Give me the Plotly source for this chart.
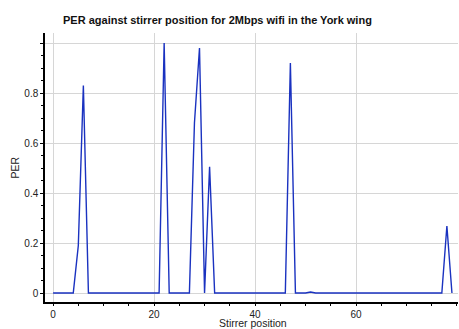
import plotly.graph_objects as go

# Stirrer positions and packet error rate
stirrer_pos = list(range(80))
per = [
    0, 0, 0, 0, 0, 0.19, 0.83, 0, 0, 0,
    0, 0, 0, 0, 0, 0, 0, 0, 0, 0,
    0, 0, 1.0, 0, 0, 0, 0, 0, 0.68, 0.98,
    0, 0.505, 0, 0, 0, 0, 0, 0, 0, 0,
    0, 0, 0, 0, 0, 0, 0, 0.92, 0, 0,
    0, 0.004, 0, 0, 0, 0, 0, 0, 0, 0,
    0, 0, 0, 0, 0, 0, 0, 0, 0, 0,
    0, 0, 0, 0, 0, 0, 0, 0, 0.268, 0,
]
y_ticks = [0, 0.2, 0.4, 0.6, 0.8, 1.0]
y_labels = ["0", "0.2", "0.4", "0.6", "0.8", ""]
x_ticks = [0, 20, 40, 60]

fig = go.Figure()
fig.add_trace(go.Scatter(
    x=stirrer_pos, y=per, mode="lines",
    line=dict(color="#1a32c0", width=1.4),
    showlegend=False,
))

axis_font = dict(family="Liberation Sans, Arial, sans-serif", size=10, color="#222")
label_font = dict(family="Liberation Sans, Arial, sans-serif", size=10.5, color="#222")

fig.update_layout(
    width=459, height=329,
    margin=dict(l=45, r=1, t=33, b=27),
    paper_bgcolor="white", plot_bgcolor="white",
    font=axis_font,
    title=dict(
        text="<b>PER against stirrer position for 2Mbps wifi in the York wing</b>",
        x=63 / 459, xanchor="left", y=1 - 20 / 329, yanchor="middle",
        font=dict(family="Liberation Sans, Arial, sans-serif", size=11, color="#111"),
    ),
    xaxis=dict(
        range=[-1.6, 80.2], tickvals=x_ticks, automargin=False,
        showgrid=True, gridcolor="#d6d6d6", gridwidth=1,
        showline=True, linecolor="black", linewidth=1.5,
        ticks="outside", ticklen=2, tickcolor="black",
        minor=dict(dtick=5, ticks="outside", ticklen=2, tickcolor="black", showgrid=False),
        zeroline=False,
    ),
    yaxis=dict(
        range=[-0.036, 1.04], tickvals=y_ticks, ticktext=y_labels, automargin=False,
        showgrid=True, gridcolor="#d6d6d6", gridwidth=1,
        showline=True, linecolor="black", linewidth=1.5,
        ticks="outside", ticklen=3, tickcolor="black",
        minor=dict(dtick=0.05, tick0=0, ticks="outside", ticklen=2, tickcolor="black", showgrid=False),
        zeroline=False,
    ),
    annotations=[
        dict(text="Stirrer position", xref="paper", yref="paper",
             x=208 / 413, y=-21 / 269, xanchor="center", yanchor="middle",
             showarrow=False, font=label_font, borderpad=0),
        dict(text="PER", xref="paper", yref="paper",
             x=-31 / 413, y=0.5, xanchor="center", yanchor="middle",
             textangle=-90, showarrow=False, font=label_font),
    ],
)

# drop the default body margin so the figure sits at the window's corner
fig.write_html("out.html", config={"displayModeBar": False},
               post_script="document.body.style.margin='0';")
